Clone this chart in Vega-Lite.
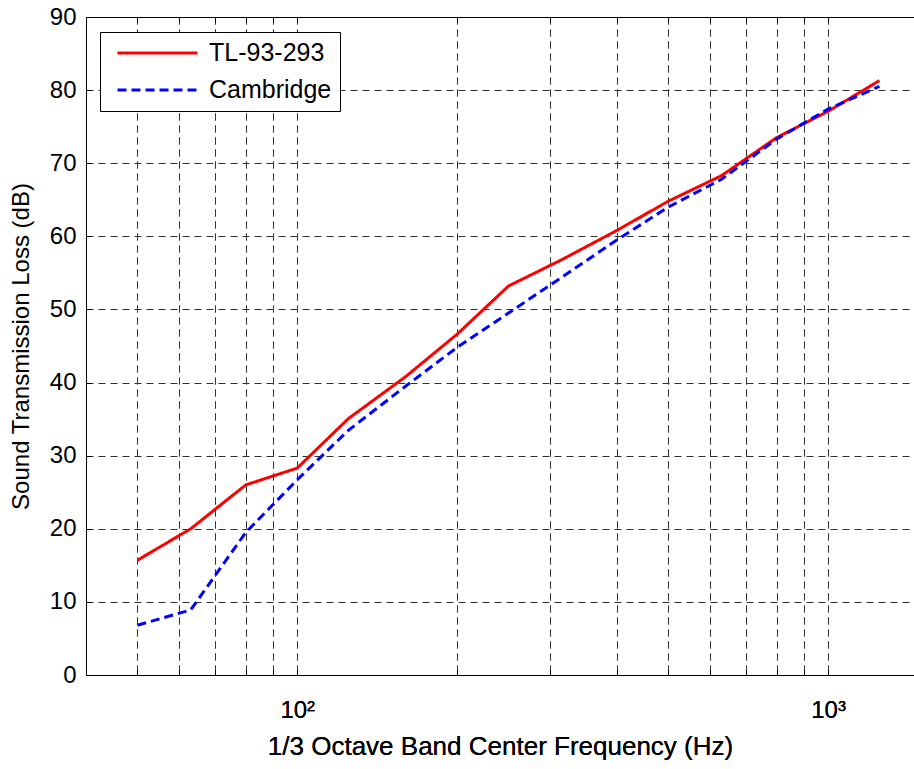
{
  "$schema": "https://vega.github.io/schema/vega-lite/v6.json",
  "width": 828,
  "height": 658,
  "autosize": {"type": "none"},
  "padding": {"left": 86, "top": 17, "right": 0, "bottom": 94},
  "background": "white",
  "config": {
    "view": {"stroke": null},
    "font": "Liberation Sans",
    "axis": {
      "domainColor": "black",
      "domainWidth": 1,
      "tickColor": "black",
      "tickSize": -5,
      "labelColor": "black",
      "titleColor": "black",
      "labelFont": "Liberation Sans",
      "titleFont": "Liberation Sans",
      "labelFontSize": 24,
      "titleFontSize": 25,
      "titleFontWeight": "normal",
      "gridColor": "#333333",
      "gridDash": [7, 5],
      "gridWidth": 1,
      "labelOverlap": false,
      "labelBound": false,
      "labelFlush": false
    },
    "legend": {
      "orient": "none",
      "legendX": 14,
      "legendY": 15,
      "strokeColor": "black",
      "fillColor": "white",
      "padding": 8,
      "symbolOffset": 8,
      "rowPadding": 11,
      "clipHeight": 26,
      "symbolType": "stroke",
      "symbolSize": 6400,
      "symbolStrokeWidth": 3,
      "labelFontSize": 25,
      "labelFont": "Liberation Sans",
      "labelColor": "black",
      "labelOffset": 10,
      "labelLimit": 400
    }
  },
  "data": {
    "values": [
      {"f": 50, "tl": 15.7, "series": "TL-93-293"},
      {"f": 63, "tl": 20.0, "series": "TL-93-293"},
      {"f": 80, "tl": 26.0, "series": "TL-93-293"},
      {"f": 100, "tl": 28.3, "series": "TL-93-293"},
      {"f": 125, "tl": 35.1, "series": "TL-93-293"},
      {"f": 160, "tl": 40.8, "series": "TL-93-293"},
      {"f": 200, "tl": 46.6, "series": "TL-93-293"},
      {"f": 250, "tl": 53.2, "series": "TL-93-293"},
      {"f": 315, "tl": 56.8, "series": "TL-93-293"},
      {"f": 400, "tl": 60.8, "series": "TL-93-293"},
      {"f": 500, "tl": 64.8, "series": "TL-93-293"},
      {"f": 630, "tl": 68.3, "series": "TL-93-293"},
      {"f": 800, "tl": 73.5, "series": "TL-93-293"},
      {"f": 1000, "tl": 77.1, "series": "TL-93-293"},
      {"f": 1250, "tl": 81.3, "series": "TL-93-293"},
      {"f": 50, "tl": 6.8, "series": "Cambridge"},
      {"f": 63, "tl": 8.9, "series": "Cambridge"},
      {"f": 80, "tl": 19.5, "series": "Cambridge"},
      {"f": 100, "tl": 26.7, "series": "Cambridge"},
      {"f": 125, "tl": 33.5, "series": "Cambridge"},
      {"f": 160, "tl": 39.5, "series": "Cambridge"},
      {"f": 200, "tl": 44.8, "series": "Cambridge"},
      {"f": 250, "tl": 49.5, "series": "Cambridge"},
      {"f": 315, "tl": 54.4, "series": "Cambridge"},
      {"f": 400, "tl": 59.5, "series": "Cambridge"},
      {"f": 500, "tl": 64.0, "series": "Cambridge"},
      {"f": 630, "tl": 67.8, "series": "Cambridge"},
      {"f": 800, "tl": 73.3, "series": "Cambridge"},
      {"f": 1000, "tl": 77.4, "series": "Cambridge"},
      {"f": 1250, "tl": 80.5, "series": "Cambridge"}
    ]
  },
  "encoding": {
    "x": {
      "field": "f",
      "type": "quantitative",
      "scale": {"type": "log", "domain": [40, 1452], "nice": false},
      "axis": {
        "orient": "bottom",
        "values": [50, 60, 70, 80, 90, 100, 200, 300, 400, 500, 600, 700, 800, 900, 1000],
        "labelExpr": "datum.value == 100 ? '10²' : (datum.value == 1000 ? '10³' : '')",
        "grid": true,
        "labelPadding": 28,
        "title": "1/3 Octave Band Center Frequency (Hz)",
        "titleFontSize": 26,
        "titlePadding": 11
      }
    },
    "y": {
      "field": "tl",
      "type": "quantitative",
      "scale": {"domain": [0, 90], "nice": false, "zero": false},
      "axis": {
        "values": [0, 10, 20, 30, 40, 50, 60, 70, 80, 90],
        "grid": true,
        "labelPadding": 15,
        "title": "Sound Transmission Loss (dB)",
        "titleFontSize": 24,
        "titlePadding": 16
      }
    },
    "color": {
      "field": "series",
      "type": "nominal",
      "scale": {"domain": ["TL-93-293", "Cambridge"], "range": ["#ff0000", "#0000ff"]},
      "legend": {"title": null}
    },
    "strokeDash": {
      "field": "series",
      "type": "nominal",
      "scale": {"domain": ["TL-93-293", "Cambridge"], "range": [[1, 0], [9, 5]]},
      "legend": {"title": null}
    }
  },
  "layer": [
    {
      "transform": [{"filter": "datum.series == 'TL-93-293'"}],
      "mark": {"type": "line", "strokeWidth": 3, "clip": true}
    },
    {
      "transform": [{"filter": "datum.series == 'Cambridge'"}],
      "mark": {"type": "line", "strokeWidth": 3, "clip": true}
    },
    {
      "mark": {"type": "point", "opacity": 0},
      "encoding": {
        "x": {
          "field": "f",
          "type": "quantitative",
          "axis": {
            "orient": "top",
            "values": [50, 60, 70, 80, 90, 100, 200, 300, 400, 500, 600, 700, 800, 900, 1000],
            "labels": false,
            "grid": false,
            "title": null
          }
        },
        "y": {"field": "tl", "type": "quantitative"},
        "color": {"value": "black"},
        "strokeDash": {"value": [1, 0]}
      }
    }
  ]
}
